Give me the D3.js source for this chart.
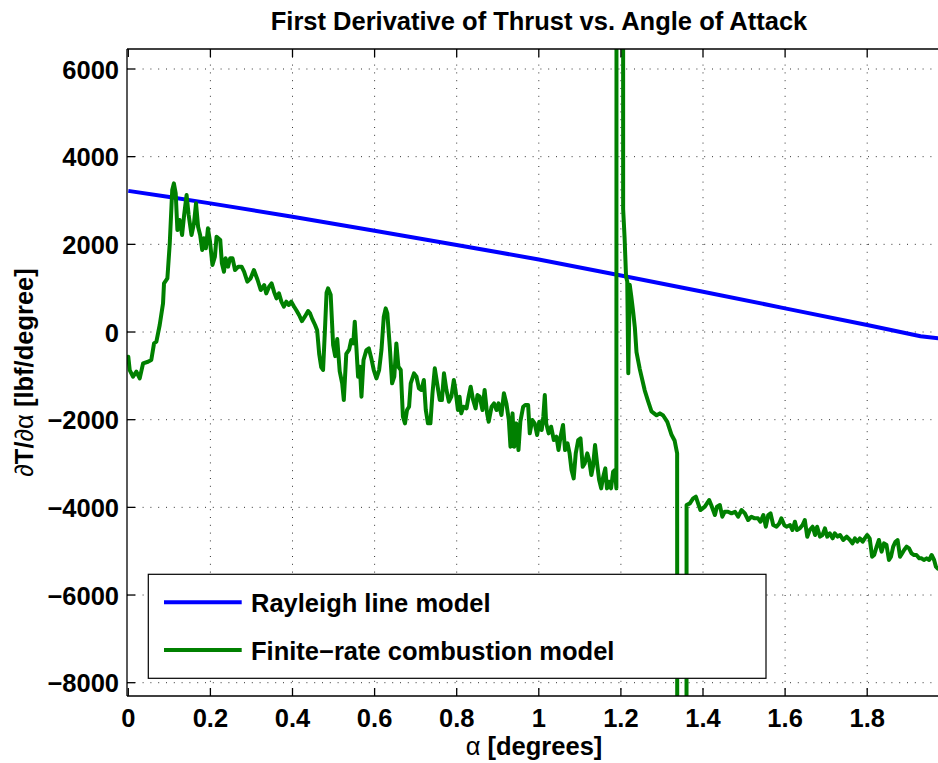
<!DOCTYPE html>
<html><head><meta charset="utf-8">
<script src="https://cdn.jsdelivr.net/npm/d3@7"></script>
<style>
html,body{margin:0;padding:0;background:#fff;}
text{font-family:"Liberation Sans",Arial,Helvetica,sans-serif;font-weight:bold;}
</style></head>
<body><div id="chart"></div>
<script>
// ---------- data ----------
const xTicks = [0, 0.2, 0.4, 0.6, 0.8, 1, 1.2, 1.4, 1.6, 1.8];
const xTickLabels = ["0", "0.2", "0.4", "0.6", "0.8", "1", "1.2", "1.4", "1.6", "1.8"];
const yTicks = [-8000, -6000, -4000, -2000, 0, 2000, 4000, 6000];
const yTickLabels = ["\u22128000", "\u22126000", "\u22124000", "\u22122000", "0", "2000", "4000", "6000"];

const seriesNames = ["Rayleigh line model", "Finite\u2212rate combustion model"];
const seriesColors = ["#0000ff", "#008000"];

const rayleighAlpha = [0, 0.1, 0.2, 0.4, 0.6, 0.8, 1.0, 1.2, 1.4, 1.6, 1.8, 1.93, 1.975];
const rayleighDeriv = [3220, 3080, 2935, 2630, 2310, 1985, 1655, 1290, 920, 540, 160, -95, -145];

// finite-rate model (values off the chart at the two spikes are far outside the axis limits)
const finiteAlpha = [
0.000,0.0034,0.0115,0.0197,0.0278,0.036,0.048,0.056,0.0627,0.0684,0.0765,0.0846,0.087,0.0952,0.101,0.107,0.111,0.1155,0.1196,0.125,
0.131,0.136,0.142,0.147,0.154,0.160,0.165,0.170,0.175,0.180,0.184,0.189,0.194,0.199,0.205,0.211,0.215,0.224,0.228,0.233,
0.237,0.243,0.248,0.254,0.260,0.268,0.276,0.282,0.290,0.298,0.306,0.315,0.3226,0.331,0.336,0.343,0.349,0.355,0.361,0.367,
0.373,0.379,0.385,0.391,0.397,0.404,0.409,0.416,0.423,0.430,0.438,0.443,0.448,0.455,0.460,0.465,0.470,0.4745,0.479,0.483,
0.4866,0.493,0.499,0.504,0.509,0.515,0.521,0.525,0.531,0.538,0.543,0.548,0.5517,0.556,0.5597,0.564,0.568,0.573,0.580,0.586,
0.592,0.598,0.6045,0.611,0.6167,0.6224,0.627,0.631,0.637,0.6426,0.648,0.653,0.658,0.6637,0.669,0.674,0.679,0.684,0.688,0.696,
0.702,0.708,0.714,0.720,0.7247,0.730,0.736,0.741,0.7466,0.7523,0.7588,0.764,0.769,0.775,0.781,0.787,0.793,0.797,0.803,0.807,
0.811,0.8166,0.824,0.829,0.834,0.840,0.846,0.8506,0.856,0.8628,0.868,0.874,0.878,0.885,0.891,0.897,0.902,0.909,0.915,0.921,
0.927,0.931,0.936,0.940,0.945,0.9505,0.955,0.962,0.967,0.974,0.978,0.984,0.990,0.996,1.001,1.007,1.011,1.0146,1.018,1.024,
1.030,1.0366,1.043,1.048,1.053,1.059,1.064,1.070,1.075,1.0797,1.085,1.090,1.096,1.1016,1.107,1.112,1.118,1.1226,1.128,1.132,
1.137,1.142,1.147,1.152,1.157,1.162,1.166,1.171,1.176,1.181,1.1855,1.189,1.198,1.2055,1.209,1.2125,1.2155,1.218,1.2215,1.2255,
1.23,1.234,1.238,1.246,1.258,1.266,1.2745,1.287,1.295,1.303,1.313,1.323,1.331,1.337,1.3485,1.3600,1.368,1.376,1.3826,1.388,
1.3937,1.4045,1.415,1.420,1.429,1.434,1.441,1.447,1.453,1.461,1.4695,1.478,1.4857,1.494,1.502,1.51,1.518,1.526,1.534,1.540,
1.547,1.553,1.559,1.5646,1.571,1.579,1.586,1.591,1.598,1.6035,1.612,1.618,1.624,1.629,1.636,1.6425,1.648,1.654,1.660,1.667,
1.673,1.678,1.685,1.691,1.697,1.7026,1.709,1.7157,1.721,1.728,1.734,1.7415,1.75,1.758,1.764,1.770,1.776,1.782,1.789,1.794,
1.800,1.806,1.812,1.817,1.823,1.8285,1.835,1.841,1.847,1.853,1.858,1.8633,1.869,1.874,1.880,1.885,1.890,1.896,1.902,1.908,
1.914,1.920,1.927,1.9325,1.938,1.9447,1.951,1.957,1.963,1.9674,1.972
];
const finiteDeriv = [
-564,-867,-1020,-906,-1057,-715,-678,-639,-258,-221,160,654,1110,1225,2023,3239,3391,3164,2327,2555,
2213,2669,3125,2669,2213,2479,2936,2403,2213,1871,2137,1909,2365,2061,1528,1718,2174,2099,1566,1376,
1681,1490,1680,1680,1414,1490,1490,1376,1148,1225,1414,1186,958,1072,882,1034,1110,920,768,882,
692,578,692,616,692,578,502,388,250,350,480,420,300,160,40,-500,-800,-867,45,900,
997,850,-300,-550,-160,-900,-1171,-1552,-500,-400,-183,-260,235,-412,-1020,-792,-1476,-639,-412,-374,
-601,-867,-1057,-867,-411,349,540,426,-336,-1171,-1020,-260,-792,-867,-1933,-2084,-1780,-1704,-1171,-943,
-1020,-1285,-1323,-1095,-1780,-2084,-2084,-1399,-829,-1171,-1552,-1552,-943,-1323,-1590,-1476,-1095,-1323,-1780,-1476,
-1856,-1704,-1742,-1476,-1247,-1552,-1742,-1438,-1476,-1780,-1323,-1856,-2047,-1704,-1628,-1780,-1628,-1894,-1399,-1628,
-2008,-2617,-1856,-2617,-2084,-2693,-2047,-1704,-1666,-1666,-2312,-2008,-2084,-2350,-2047,-2237,-1933,-1438,-2084,-2312,
-2160,-2465,-2389,-2693,-2389,-2122,-2693,-2541,-2769,-3149,-3339,-2769,-2465,-2427,-3073,-2997,-2769,-2921,-3263,-3073,
-2579,-2997,-3377,-3567,-3301,-3111,-3567,-3415,-3567,-3187,-3149,-3567,400000,2800,2150,1270,1150,-940,1080,800,
450,100,-460,-846,-1330,-1570,-1810,-1900,-1856,-1904,-2048,-2337,-2481,-2770,-400000,-3947,-3909,-3795,-3757,-3909,
-4061,-3985,-3833,-3947,-4175,-3985,-3947,-4213,-4099,-4099,-4137,-4099,-4213,-4061,-4137,-4289,-4213,-4251,-4251,-4327,
-4175,-4441,-4175,-4137,-4403,-4441,-4365,-4251,-4403,-4441,-4403,-4517,-4327,-4517,-4479,-4403,-4289,-4669,-4517,-4441,
-4631,-4441,-4669,-4631,-4479,-4669,-4593,-4707,-4593,-4669,-4631,-4745,-4669,-4745,-4821,-4707,-4783,-4707,-4783,-4707,
-4631,-4707,-5125,-5087,-4897,-4745,-5011,-4821,-4859,-5201,-5125,-4897,-4783,-4745,-5125,-5049,-4973,-4897,-4935,-5049,
-5087,-5087,-5163,-5163,-5201,-5163,-5201,-5087,-5201,-5353,-5400
];

// ---------- drawing ----------
const W = 938, H = 763;
const plotL = 127, plotT = 49, plotR = 949.3, plotB = 696;
const x = d3.scaleLinear().domain([0, 2]).range([128.3, 949.3]);
const y = d3.scaleLinear().domain([-8000, 6000]).range([682.7, 69]);

const svg = d3.select("#chart").append("svg")
  .attr("width", W).attr("height", H)
  .style("display", "block");

svg.append("defs").append("clipPath").attr("id", "clip")
  .append("rect").attr("x", plotL).attr("y", plotT)
  .attr("width", plotR - plotL).attr("height", plotB - plotT);

// grid
const grid = svg.append("g").attr("stroke", "#333").attr("stroke-width", 1)
  .attr("stroke-dasharray", "1,6.8");
grid.selectAll("line.v").data(xTicks.slice(1)).join("line")
  .attr("x1", d => x(d)).attr("x2", d => x(d))
  .attr("y1", plotT).attr("y2", plotB);
grid.selectAll("line.h").data(yTicks).join("line")
  .attr("x1", plotL).attr("x2", plotR)
  .attr("y1", d => y(d)).attr("y2", d => y(d));

// data lines
const gData = svg.append("g").attr("clip-path", "url(#clip)");
const line = d3.line().x(d => x(d[0])).y(d => y(d[1]));
const rayleigh = rayleighAlpha.map((a, i) => [a, rayleighDeriv[i]]);
const finite = finiteAlpha.map((a, i) => [a, finiteDeriv[i]]);
gData.append("path").datum(rayleigh).attr("d", line)
  .attr("fill", "none").attr("stroke", seriesColors[0]).attr("stroke-width", 4)
  .attr("stroke-linejoin", "round");
gData.append("path").datum(finite).attr("d", line)
  .attr("fill", "none").attr("stroke", seriesColors[1]).attr("stroke-width", 4)
  .attr("stroke-linejoin", "round").attr("stroke-linecap", "round");

// axes box
const ax = svg.append("g").attr("stroke", "#000").attr("stroke-width", 1.3).attr("fill", "none");
ax.append("line").attr("x1", plotL).attr("x2", plotL).attr("y1", plotT).attr("y2", plotB);
ax.append("line").attr("x1", plotL).attr("x2", plotR).attr("y1", plotB).attr("y2", plotB);
ax.append("line").attr("x1", plotL).attr("x2", plotR).attr("y1", plotT).attr("y2", plotT);
// ticks
ax.selectAll("line.yt").data(yTicks).join("line")
  .attr("x1", plotL).attr("x2", plotL + 8).attr("y1", d => y(d)).attr("y2", d => y(d));
ax.selectAll("line.xb").data(xTicks).join("line")
  .attr("x1", d => x(d)).attr("x2", d => x(d)).attr("y1", plotB).attr("y2", plotB - 8);
ax.selectAll("line.xt").data(xTicks).join("line")
  .attr("x1", d => x(d)).attr("x2", d => x(d)).attr("y1", plotT).attr("y2", plotT + 8);

// tick labels
const fs = 25.5;
svg.append("g").selectAll("text").data(yTicks).join("text")
  .attr("x", 119).attr("y", d => y(d) + 9.5)
  .attr("text-anchor", "end").attr("font-size", fs)
  .text((d, i) => yTickLabels[i]);
svg.append("g").selectAll("text").data(xTicks).join("text")
  .attr("x", d => x(d)).attr("y", 726.7)
  .attr("text-anchor", "middle").attr("font-size", fs)
  .text((d, i) => xTickLabels[i]);

// title
svg.append("text").attr("x", 539).attr("y", 29.5).attr("text-anchor", "middle")
  .attr("font-size", fs).text("First Derivative of Thrust vs. Angle of Attack");

// x label
const xl = svg.append("text").attr("x", 534).attr("y", 755).attr("text-anchor", "middle")
  .attr("font-size", fs);
xl.append("tspan").attr("font-weight", "normal").text("\u03b1");
xl.append("tspan").text(" [degrees]");

// y label
const yl = svg.append("text").attr("transform", "translate(33,372.5) rotate(-90)")
  .attr("text-anchor", "middle").attr("font-size", fs);
yl.append("tspan").attr("font-weight", "normal").text("\u2202");
yl.append("tspan").text("T/");
yl.append("tspan").attr("font-weight", "normal").text("\u2202\u03b1");
yl.append("tspan").text(" [lbf/degree]");

// legend
const lg = svg.append("g");
lg.append("rect").attr("x", 148.3).attr("y", 574.3).attr("width", 617.7).attr("height", 104)
  .attr("fill", "#fff").attr("stroke", "#000").attr("stroke-width", 1.2);
const legY = [602.3, 650];
seriesNames.forEach((n, i) => {
  lg.append("line").attr("x1", 164).attr("x2", 241.7).attr("y1", legY[i]).attr("y2", legY[i])
    .attr("stroke", seriesColors[i]).attr("stroke-width", 4);
  lg.append("text").attr("x", 251).attr("y", legY[i] + 9.6).attr("font-size", fs).text(n);
});
</script>
</body></html>
